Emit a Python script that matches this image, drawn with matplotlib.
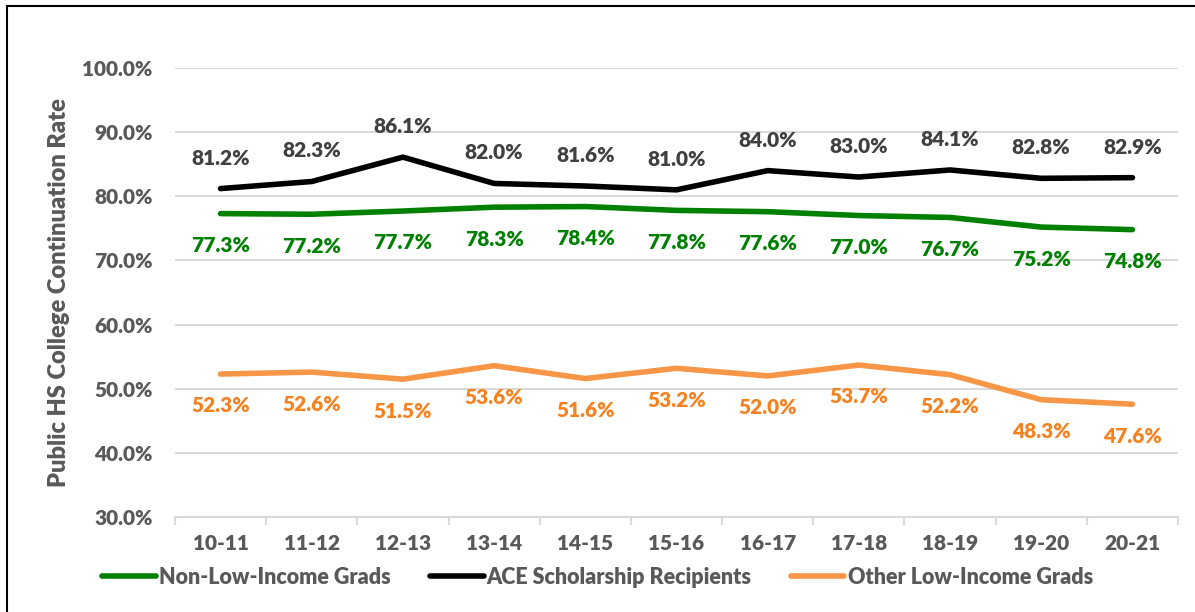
import matplotlib.pyplot as plt
from matplotlib.patches import Rectangle
from matplotlib.ticker import FuncFormatter

# data
years = ['10-11', '11-12', '12-13', '13-14', '14-15', '15-16',
         '16-17', '17-18', '18-19', '19-20', '20-21']
non_low_income = [77.3, 77.2, 77.7, 78.3, 78.4, 77.8, 77.6, 77.0, 76.7, 75.2, 74.8]
ace_recipients = [81.2, 82.3, 86.1, 82.0, 81.6, 81.0, 84.0, 83.0, 84.1, 82.8, 82.9]
other_low_income = [52.3, 52.6, 51.5, 53.6, 51.6, 53.2, 52.0, 53.7, 52.2, 48.3, 47.6]

plt.rcParams['font.family'] = ['Lato', 'DejaVu Sans']
plt.rcParams['font.weight'] = 'heavy'

GREY = '#595959'
GRID = '#d9d9d9'
GREEN = '#008000'
BLACK = '#000000'
ORANGE = '#f79646'
ORANGE_TXT = '#f58220'

fig = plt.figure(figsize=(11.95, 6.12), dpi=100)
ax = fig.add_axes([0.1464, 0.155, 0.8394, 0.734])

x = list(range(len(years)))
series = [
    (non_low_income, GREEN, GREEN, 'Non-Low-Income Grads', -23),
    (ace_recipients, BLACK, '#404040', 'ACE Scholarship Recipients', 22),
    (other_low_income, ORANGE, ORANGE_TXT, 'Other Low-Income Grads', -23),
]
for vals, col, tcol, name, off in series:
    ax.plot(x, vals, color=col, lw=4, solid_capstyle='round', label=name, zorder=3)
    for xi, v in zip(x, vals):
        ax.annotate(f'{v:.1f}%', (xi, v), xytext=(0, off), textcoords='offset points',
                    ha='center', va='center', fontsize=15, color=tcol)

ax.set_xlim(-0.5, len(years) - 0.5)
ax.set_ylim(30, 100)
ax.set_yticks(range(30, 101, 10))
ax.yaxis.set_major_formatter(FuncFormatter(lambda v, p: f'{v:.1f}%'))
ax.set_xticks(x)
ax.set_xticklabels(years)
ax.set_xticks([i - 0.5 for i in range(len(years) + 1)], minor=True)
ax.grid(axis='y', color=GRID, lw=1.5)
ax.set_axisbelow(True)
for s in ['top', 'right', 'left']:
    ax.spines[s].set_visible(False)
ax.spines['bottom'].set_color(GRID)
ax.spines['bottom'].set_linewidth(1.5)
ax.tick_params(axis='y', length=0, pad=16, labelsize=15, labelcolor=GREY)
ax.tick_params(axis='x', which='major', length=0, pad=12, labelsize=15, labelcolor=GREY)
ax.tick_params(axis='x', which='minor', length=6, width=1.5, color=GRID)
ax.set_ylabel('Public HS College Continuation Rate', fontsize=17, fontweight='heavy',
              color=GREY, labelpad=9)

fig.legend(loc='center', bbox_to_anchor=(0.5, 1 - 577 / 612), ncol=3, frameon=False,
           fontsize=15.5, handlelength=2.5, handletextpad=0.15, columnspacing=1.8,
           labelcolor=GREY)

# outer border (top and left visible, rest cropped)
fig.patches.append(Rectangle((7 / 1195, -0.05), 1.2, 1 - 6 / 612 + 0.05,
                             transform=fig.transFigure, fill=False,
                             edgecolor='black', lw=1.5))

fig.savefig('out.png', dpi=100)
